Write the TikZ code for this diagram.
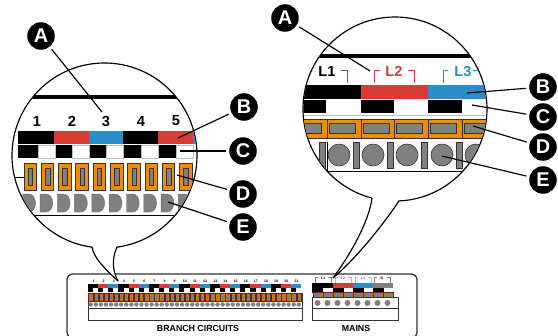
\documentclass[tikz,border=0pt]{standalone}
\usepackage{fontspec}
\setmainfont{Liberation Sans}
\definecolor{barred}{RGB}{216,58,52}
\definecolor{barblue}{RGB}{42,142,200}
\definecolor{termorange}{RGB}{240,140,0}
\definecolor{termgray}{RGB}{128,128,128}
\tikzset{
  letterdot/.style={circle,fill=black,text=white,inner sep=0pt,minimum size=23.5pt,font=\fontsize{17}{17}\bfseries},
  leader/.style={line width=1pt,shorten <=2.5pt},
  bubble/.style={line width=1pt},
  termcell/.style={fill=termorange,draw=black!80,line width=0.7pt},
  terminner/.style={fill=termgray,draw=black!80,line width=0.5pt},
  smallcell/.style={fill=termorange!85!black,draw=barred!50!black,line width=0.3pt},
  smallinner/.style={fill=termgray!60!barblue,draw=none},
  bignum/.style={inner sep=0pt,font=\fontsize{12.5}{12.5}\bfseries},
  tinynum/.style={inner sep=0pt,font=\fontsize{3}{3}\bfseries},
  paneltext/.style={inner sep=0pt,font=\fontsize{7.5}{7.5}\bfseries}
}

\begin{document}
\begin{tikzpicture}[x=0.03cm,y=-0.03cm]
       \useasboundingbox (0,0) rectangle (558,336);
       \draw[line width=1.1pt,black!80,rounded corners=5] (67,274) rectangle (417,338);
       % branch panel
       \draw[line width=0.5pt,black!80] (88,293) rectangle (302,320);
       \draw[line width=0.4pt,black!80] (88,308) -- (302,308);
       \foreach \i [evaluate=\i as \x using {88+10.15*(\i-1)},evaluate=\i as \m using {int(mod(\i,3))}] in {1,...,21} {
         \ifnum\m=1 \fill[black] (\x,284) rectangle +(10.15,4);\fi
         \ifnum\m=2 \fill[barred] (\x,284) rectangle +(10.15,4);\fi
         \ifnum\m=0 \fill[barblue] (\x,284) rectangle +(10.15,4);\fi
         \fill[black] (\x,288) rectangle +(5.1,4);
         \node[tinynum] (s\i) at (\x+5.5,281) {\i};
       }
       \foreach \i [evaluate=\i as \x using {88.6+5.075*\i}] in {0,...,41} {
         \draw[smallcell] (\x,293.5) rectangle +(4.3,7.5);
         \fill[smallinner] (\x+1.4,294.5) rectangle +(1.6,5.5);
         \fill[termgray] (\x+2.1,304.5) circle (2.2);
       }
       \node[paneltext] (branch) at (198,328) {BRANCH CIRCUITS};
       % mains panel
       \draw[line width=0.5pt,black!80] (312,297) rectangle (398,320);
       \draw[line width=0.4pt,black!80] (312,308) -- (398,308);
       \fill[black] (312,283) rectangle (333,288);
       \fill[barred] (333,283) rectangle (353,288);
       \fill[barblue] (353,283) rectangle (373,288);
       \fill[termgray] (373,283) rectangle (393,288);
       \foreach \x in {312,333,353,373} \fill[black] (\x,288) rectangle +(10.5,4.5);
       \foreach \x in {313,323,333,343,353,363,373,383} {
         \draw[smallcell] (\x,292.5) rectangle +(9.7,5);
         \fill[smallinner] (\x+1.5,293.5) rectangle +(6.7,3);
         \fill[termgray] (\x+4.5,303) circle (3);
       }
       \foreach \x/\t/\c in {323/L1/black,343/L2/barred,363/L3/barblue,382/N/black} {
         \node[tinynum,text=\c] (m\t) at (\x,278) {\t};
         \draw[line width=0.25pt,\c!50] (\x-8,282.5) -- (\x-8,277) -- (\x-5,277);
         \draw[line width=0.25pt,\c!50] (\x+5,277) -- (\x+8,277) -- (\x+8,282.5);
       }
       \node[paneltext] (mains) at (356,328) {MAINS};
       % left bubble
       \draw[bubble,fill=white] (104.5,155.5) circle (92.5);
       \fill[white] (92,245) .. controls (94,258) and (104,268) .. (118,281) .. controls (112,270) and (112,258) .. (117,245) -- cycle;
       \draw[bubble] (92,247) .. controls (94,258) and (104,268) .. (118,281);
       \draw[bubble] (118,281) .. controls (112,270) and (112,258) .. (117,247);
       \begin{scope}
         \clip (104.5,155.5) circle (92);
         \draw[line width=2.6pt] (20,97) -- (190,97);
         \fill[black] (18,131) rectangle (54,144);
         \fill[barred] (54,131) rectangle (89,144);
         \fill[barblue] (89,131) rectangle (123,144);
         \fill[black] (123,131) rectangle (158,144);
         \fill[barred] (158,131) rectangle (193,144);
         \fill[barblue] (193,131) rectangle (200,144);
         \fill[black] (18,145) rectangle (193,158);
         \foreach \x in {38,72,106,141,176} \draw[fill=white,draw=black!25,line width=0.4pt] (\x,145) rectangle +(17,13);
         \draw[line width=0.8pt] (10,177) -- (24,177);
         \foreach \i [evaluate=\i as \x using {24+17.3*\i}] in {0,...,9} {
           \draw[termcell] (\x,163) rectangle +(12.5,27);
           \draw[terminner] (\x+4,168) rectangle +(4.5,17);
         }
         \foreach \i [evaluate=\i as \x using {22.7+17.3*\i}] in {0,...,9} {
           \fill[termgray] (\x,194) -- (\x+6,194) .. controls (\x+15,194) and (\x+15,212) .. (\x+6,212) -- (\x,212) -- cycle;
           \draw[line width=0.3pt,black!60] (\x,194) -- (\x+6,194) .. controls (\x+15,194) and (\x+15,212) .. (\x+6,212) -- (\x,212) -- cycle;
         }
         \draw[line width=0.8pt] (20,215) -- (190,215);
       \end{scope}
       \foreach \i/\x in {1/37,2/72,3/106,4/141,5/176} \node[bignum] (n\i) at (\x,121) {\i};
       % right bubble
       \draw[bubble,fill=white] (395,109) circle (92);
       \fill[white] (372,196) .. controls (369,222) and (350,255) .. (333,278) .. controls (352,262) and (378,232) .. (399,199) -- cycle;
       \draw[bubble] (372,198) .. controls (369,222) and (350,255) .. (333,278);
       \draw[bubble] (333,278) .. controls (352,262) and (378,232) .. (399,201);
       \begin{scope}
         \clip (395,109) circle (91.5);
         \draw[line width=2.6pt] (300,56) -- (490,56);
         \fill[black] (300,85) rectangle (361,99);
         \fill[barred] (361,85) rectangle (428,99);
         \fill[barblue] (428,85) rectangle (490,99);
         \fill[black] (300,99.5) rectangle (326,113);
         \fill[black] (361,99.5) rectangle (394,113);
         \fill[black] (428,99.5) rectangle (462,113);
         \draw[line width=0.8pt,black!25] (300,115) -- (490,115);
         \fill[termorange] (300,119) rectangle (490,138);
         \draw[line width=0.6pt,black!80] (300,119) -- (490,119) (300,138) -- (490,138);
         \foreach \x in {293,327,361,394.5,428.5,462} {
           \draw[line width=0.8pt,black!80] (\x,119) -- (\x,138);
           \draw[terminner] (\x+2,123) rectangle +(26,10);
         }
         \foreach \x in {319,353,387,421,456} \draw[terminner] (\x,142) rectangle +(6,26);
         \foreach \x in {339,373,407,442,476} \draw[terminner] (\x,155) circle (11);
         \draw[line width=0.7pt] (327,142) -- (327,171) -- (490,171);
         \draw[line width=0.7pt,black!60] (341,70) -- (347,70) -- (347,83);
         \draw[line width=0.7pt,barred] (380,70) -- (374,70) -- (374,83);
         \draw[line width=0.7pt,barred] (408,70) -- (414,70) -- (414,83);
         \draw[line width=0.7pt,barblue] (448,70) -- (443,70) -- (443,83);
         \draw[line width=0.7pt,barblue] (473,70) -- (483,70) -- (483,83);
       \end{scope}
       \node[bignum] (l1) at (327,71) {L1};
       \node[bignum,text=barred] (l2) at (394,71) {L2};
       \node[bignum,text=barblue] (l3) at (463,71) {L3};
       % left callouts
       \node[letterdot] (la) at (41,36) {A};
       \node[letterdot] (lb) at (244,107) {B};
       \node[letterdot] (lc) at (243,151) {C};
       \node[letterdot] (ld) at (243,194) {D};
       \node[letterdot] (le) at (243,227) {E};
       \coordinate (pa) at (102,112);
       \coordinate (pb) at (178,138);
       \coordinate (pc) at (180,151);
       \coordinate (pd) at (177,175);
       \coordinate (pe) at (168,202);
       \draw[leader] (la) -- (pa);
       \draw[leader] (lb) -- (pb);
       \draw[leader] (lc) -- (pc);
       \draw[leader] (ld) -- (pd);
       \draw[leader] (le) -- (pe);
       % right callouts
       \node[letterdot] (ra) at (285,18) {A};
       \node[letterdot] (rb) at (543,87) {B};
       \node[letterdot] (rc) at (543,117) {C};
       \node[letterdot] (rd) at (543,147) {D};
       \node[letterdot] (re) at (543,180) {E};
       \coordinate (qa) at (370,71);
       \coordinate (qb) at (467,93);
       \coordinate (qc) at (472,105);
       \coordinate (qd) at (473,126);
       \coordinate (qe) at (442,156);
       \draw[leader] (ra) -- (qa);
       \draw[leader] (rb) -- (qb);
       \draw[leader] (rc) -- (qc);
       \draw[leader] (rd) -- (qd);
       \draw[leader] (re) -- (qe);
\end{tikzpicture}
\end{document}
